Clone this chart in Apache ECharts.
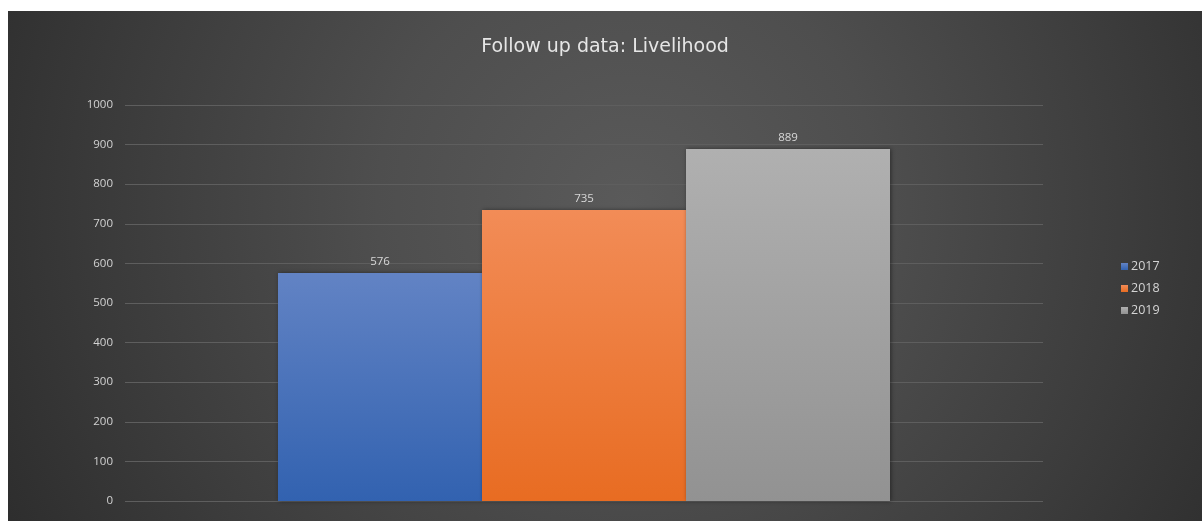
<!DOCTYPE html>
<html>
<head>
<meta charset="utf-8">
<title>Follow up data: Livelihood</title>
<script src="https://cdn.jsdelivr.net/npm/echarts@6/dist/echarts.min.js"></script>
<style>
  html, body { margin: 0; padding: 0; background: #ffffff; }
  #chart {
    position: absolute; left: 8px; top: 11px; width: 1194px; height: 510px;
    background: radial-gradient(circle 720px at 52% 38%, #5a5a5a 0%, #4e4e4e 35%, #3c3c3c 70%, #2c2c2c 100%);
  }
</style>
</head>
<body>
<div id="chart"></div>
<script>
  // Follow-up counts for the livelihood programme
  const categories = [''];
  const years = ['2017', '2018', '2019'];
  const values2017 = [576];
  const values2018 = [735];
  const values2019 = [889];
  const yTicks = { min: 0, max: 1000, interval: 100 };

  const seriesValues = [values2017, values2018, values2019];
  const gradients = [
    ['#6283c4', '#3262b0'],
    ['#f28c57', '#e86c22'],
    ['#b0b0b0', '#929292']
  ];

  const chart = echarts.init(document.getElementById('chart'), null, { renderer: 'canvas' });

  const series = years.map((y, i) => ({
    name: y,
    type: 'bar',
    data: seriesValues[i],
    barGap: '0%',
    barCategoryGap: '33.33%',
    itemStyle: {
      color: new echarts.graphic.LinearGradient(0, 0, 0, 1, [
        { offset: 0, color: gradients[i][0] },
        { offset: 1, color: gradients[i][1] }
      ]),
      shadowColor: 'rgba(0,0,0,0.45)',
      shadowBlur: 4,
      shadowOffsetX: 1
    },
    label: {
      show: true,
      position: 'top',
      distance: 5,
      color: '#d8d8d8',
      fontSize: 11.5,
      fontFamily: 'Open Sans'
    },
    emphasis: { disabled: true }
  }));

  chart.setOption({
    backgroundColor: 'transparent',
    animation: false,
    title: {
      text: 'Follow up data: Livelihood',
      left: 'center',
      top: 22,
      textStyle: {
        color: '#e6e6e6',
        fontSize: 19,
        fontWeight: 'normal',
        fontFamily: 'DejaVu Sans'
      }
    },
    legend: {
      orient: 'vertical',
      left: 1108,
      top: 244,
      itemWidth: 7,
      itemHeight: 7,
      itemGap: 9,
      icon: 'rect',
      textStyle: { color: '#d4d4d4', fontSize: 12.5, fontFamily: 'Open Sans', padding: [0, 0, 0, -2] },
      data: years
    },
    grid: { left: 117, right: 159, top: 94, bottom: 20, containLabel: false },
    xAxis: {
      type: 'category',
      data: categories,
      axisLine: { show: false },
      axisTick: { show: false },
      axisLabel: { show: false }
    },
    yAxis: {
      type: 'value',
      min: yTicks.min,
      max: yTicks.max,
      interval: yTicks.interval,
      axisLine: { show: false },
      axisTick: { show: false },
      axisLabel: {
        color: '#d2d2d2',
        fontSize: 11.5,
        margin: 12,
        fontFamily: 'Open Sans',
        formatter: (v) => String(v)
      },
      splitLine: { lineStyle: { color: '#5e5e5e', width: 1 } }
    },
    series: series
  });
</script>
</body>
</html>
